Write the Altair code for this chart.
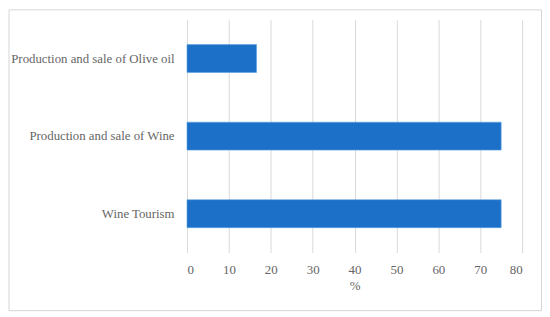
import altair as alt
import pandas as pd

categories = ["Production and sale of Olive oil", "Production and sale of Wine", "Wine Tourism"]
values = [16.6, 75, 75]
x_ticks = [0, 10, 20, 30, 40, 50, 60, 70, 80]

df = pd.DataFrame({"category": categories, "value": values})

FONT = "Liberation Serif"
TEXT = "#666666"
GRID = "#d9d9d9"

bars = alt.Chart(df).mark_bar(color="#1C70C8", stroke="#5aa0e0", strokeWidth=0.6).encode(
    x=alt.X("value:Q", title="%",
            scale=alt.Scale(domain=[0, 80], nice=False),
            axis=alt.Axis(values=x_ticks, grid=True, gridColor=GRID, gridWidth=1,
                          domain=False, ticks=False, labelPadding=11,
                          labelFontSize=13, labelColor=TEXT, labelFont=FONT,
                          titleFont=FONT, titleFontSize=13, titleColor=TEXT,
                          titleFontWeight="normal", titlePadding=3)),
    y=alt.Y("category:N", sort=categories, title=None,
            scale=alt.Scale(paddingInner=0.64, paddingOuter=0.32),
            axis=alt.Axis(domain=False, ticks=False, grid=False, labelPadding=13,
                          labelFontSize=12.9, labelColor=TEXT, labelFont=FONT,
                          labelLimit=300)),
)

frame = alt.Chart(alt.Data(values=[{}])).mark_rect(
    fill=None, stroke="#d6d6d6", strokeWidth=1
).encode(
    x=alt.value(-179), x2=alt.value(356.5),
    y=alt.value(-10), y2=alt.value(292.5),
)

chart = alt.layer(frame, bars).properties(
    width=337, height=234,
    autosize=alt.AutoSizeParams(type="none"),
    padding={"left": 180, "top": 11, "right": 20, "bottom": 60},
    background="white",
).configure_view(stroke=None)

chart.save("out.html", embed_options={"renderer": "svg", "actions": False})
